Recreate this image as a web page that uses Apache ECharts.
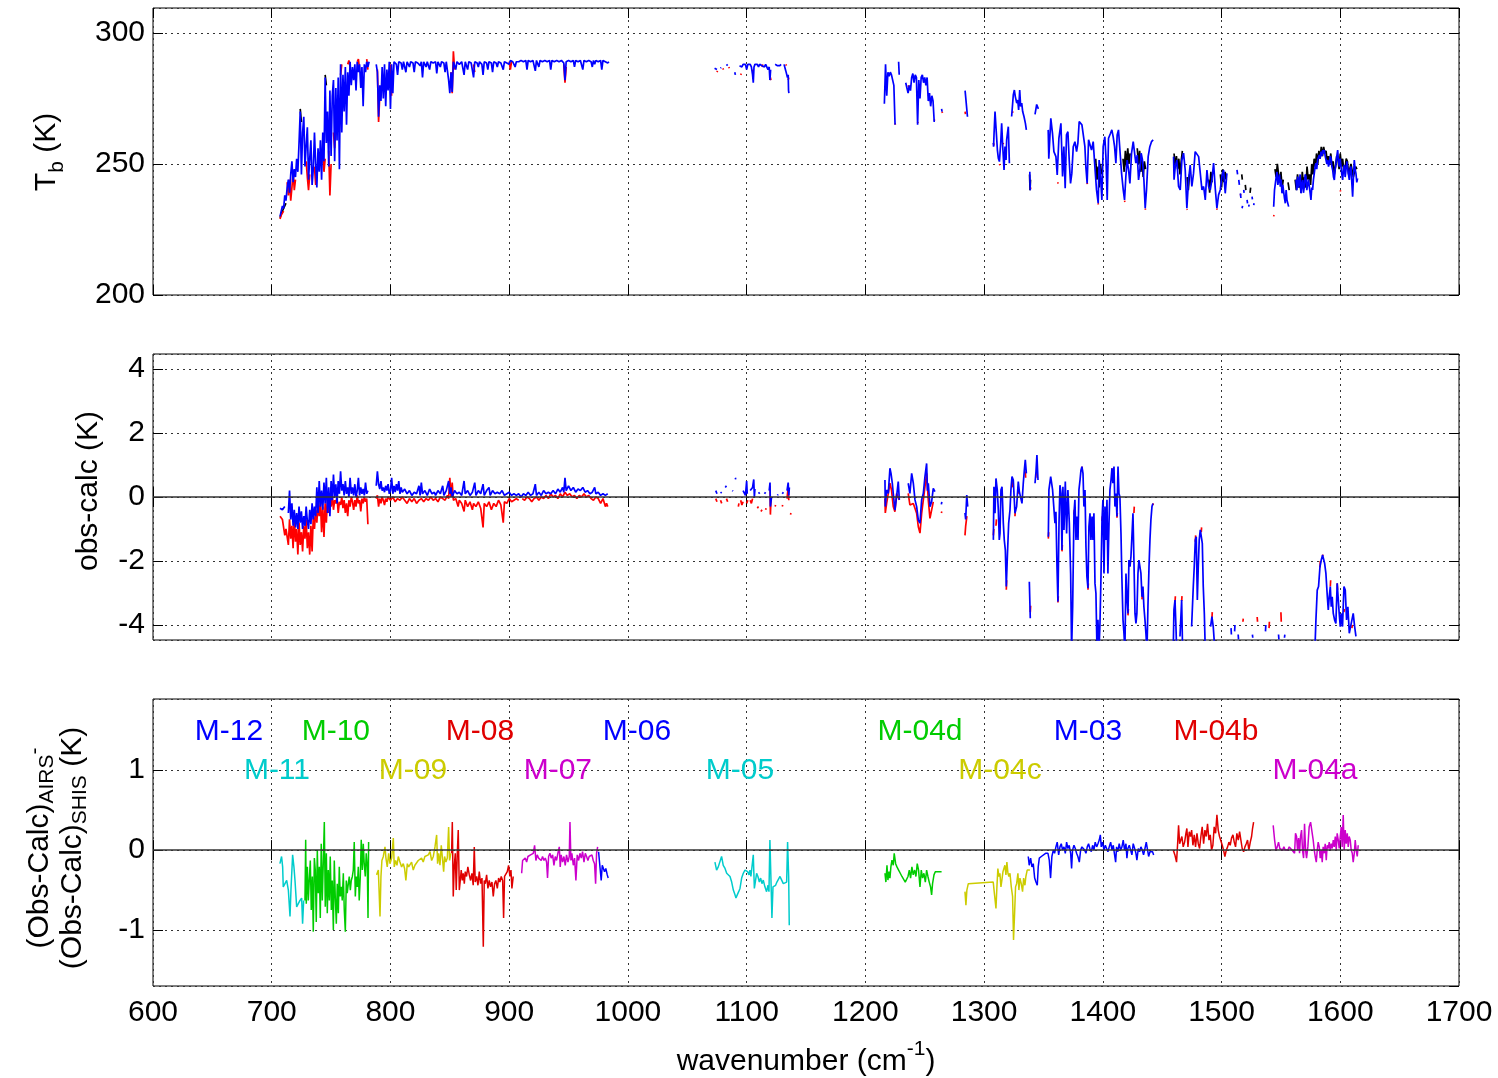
<!DOCTYPE html>
<html>
<head>
<meta charset="utf-8">
<script src="https://cdn.jsdelivr.net/npm/echarts@6/dist/echarts.min.js"></script>
<style>html,body{margin:0;padding:0;background:#fff;}#c{width:1498px;height:1078px;}</style>
</head>
<body>
<div id="c"></div>
<script>
// ---------------- DATA ----------------
const xTicks = [600, 1700, 100];

// Top panel: brightness temperature (K)
const tbBlack = [
[707,229.5],[708,231],[710,233],[712,235],null,
[724,271],[725,266],null,[745,284],[746,280],null,
[1338.3,246],[1338.7,240],[1339.1,244],null,
[1394,252],[1395,244],[1396,249],[1397,241],[1398,250],[1399,246],null,
[1417,252],[1418,247],[1419,255],[1420,249],[1421,256],[1422,250],[1423,254],null,
[1429,256],[1430,250],[1431,255],[1432,247],[1433,252],[1434,245],[1435,251],[1436,248],null,
[1460,254],[1461,249],[1462,253],[1463,248],[1464,252],[1465,246],[1466,251],[1467,255],null,
[1471,245],[1472,240],[1473,246],null,[1489,244],[1490,239],[1491,247],[1492,243],null,
[1499,246],[1500,241],[1501,248],[1502,243],[1503,247],[1504,244],null,
[1517,246],[1517.5,244],null,[1520,242],[1520.5,240],null,[1524,239],[1524.5,241],null,
[1545,248],[1546,245],[1547,250],[1548,246],[1549,243],[1550,247],[1551,241],[1552,244],null,[1556,243],[1557,240],null,
[1562,244],[1563,240],[1564,246],[1565,241],[1566,243],[1567,239],[1568,247],[1569,242],[1570,245],[1571,241],[1572,249],[1573,244],[1574,246],[1575,242],
[1576,250],[1577,246],[1578,252],[1579,249],[1580,254],[1581,250],[1582,255],[1583,252],[1584,256.5],[1585,253],[1586,256.5],[1587,254],[1588,255],
[1589,251],[1590,253],[1591,250],[1592,254],[1593,249],[1594,251],[1595,246],[1596,249],[1597,253],[1598,252],[1599,248],[1600,254],[1601,249],
[1602,252],[1603,247],[1604,248],[1605,252],[1606,251],[1607,246],[1608,246],[1609,250],[1610,250],[1611,245],[1612,247],[1613,249],[1614,248]
];
const tbRed = [
[707,229],[708,230.5],[710,232],null,[713,243],[714,238],[715,244],[716,236],[717,241],[718,247],[719,240],[720,244],null,
[729,251],[730,245],[731,240],[732,246],null,[736,249],[737,242],[738,249],null,[743,254],[744,247],[745,252],null,
[748,255],[749,238],[750,250],null,[752,262],[753,256],[754,264],null,[758,284],[759,288],null,[764,288],[765,289.5],[766,287],null,
[772,289],[773,290],[774,286],null,[780,290],[781,286],null,[789,286],[790,266],[791,276],null,[800,288],[801,276],null,
[851,285],[852,277],[853,293],[854,286],null,[870,288],[871,285],null,[900,289],[901,286],[902,289],null,[946,288],[947,281],[948,287],null,
[1075,285],[1075.5,285.5],null,[1080,286.5],[1080.5,286],null,[1085,287],[1085.4,286.5],null,[1095,284],[1095.5,284.5],null,
[1105,286],[1105.5,285],null,[1113,287],[1113.5,288],null,[1120,283],[1120.5,282],null,[1133,288],[1133.5,287.5],null,[1135,282],[1135.5,283],null,
[1217,282],[1218,283],null,[1225,265.5],[1225.3,265],null,[1236,280],[1237,279],null,[1244,266],[1244.3,265.5],null,
[1253,276],[1254,277],null,[1258,267],[1258.3,266.5],null,[1264.5,270],[1265,269.5],null,[1284,270],[1284.3,269],null,
[1308,258],[1308.3,257],null,[1313,250],[1313.3,249.5],null,[1316,258],[1316.3,257.5],null,[1324,270],[1324.3,269.5],null,[1339,241],[1339.3,240.5],null,
[1362,243],[1362.3,242.5],null,[1386.8,242.8],[1387,242.3],null,[1396,235],[1396.3,234.5],null,[1418.3,236],[1418.6,235.5],null,
[1435.7,233],[1436,232.5],null,[1470.8,232.8],[1471.1,232.5],null,[1496,233],[1496.3,232.5],null,[1515.9,238],[1516.2,238.5],null,
[1543.9,230],[1544.2,230.5],null,[1582,253],[1582.3,252],null,[1600,240],[1600.3,239.5]
];
const tbBlue = [
[707,230],[708,232],[709,234],[710,233],[711,238],[712,236],[713,241],[714,244],[715,239],[716,246],[717,251],[718,243],[719,248],[720,245],
[721,252],[722,247],[723,258],[724,270],[725,246],[726,262],[727,268],[728,249],[729,257],[730,264],[731,244],[732,252],[733,259],[734,242],
[735,248],[736,262],[737,250],[738,241],[739,256],[740,247],[741,259],[742,244],[743,262],[744,251],[745,283],[746,258],[747,270],[748,249],
[749,278],[750,253],[751,276],[752,282],[753,251],[754,279],[755,259],[756,283],[757,248],[758,288],[759,262],[760,284],[761,270],[762,287],
[763,265],[764,285],[765,276],[766,289],[767,280],[768,287],[769,282],[770,288],[771,278],[772,289],[773,285],[774,288],[775,279],[776,287],
[777,272],[778,288],[779,285],[780,289],[781,287],[782,289],null,
[788,288],[789,285],[790,268],[791,280],[792,274],[793,287],[794,275],[795,288],[796,272],[797,286],[798,278],[799,289],[800,271],[801,288],
[802,277],[803,289],[805,288],[806,284],[807,289],[809,288.5],[810,286],[811,289],[813,285],[814,289],[816,287],[817,289],[819,288.5],[820,285],
[821,289],[823,288.5],[825,287.5],[826,289],[827,283],[828,289],[830,287],[831,289],[833,286],[834,289],[836,288.5],[838,289],[839,284.5],[840,289],
[842,287],[843,289],[845,288.5],[846,285],[847,289],[849,282],[850,277],[851,285],[852,277.5],[853,289],[855,286],[856,289],[858,288],[860,289],
[862,284],[863,289],[865,286],[866,289],[868,288.5],[870,283],[871,289],[873,288.5],[874,287],[875,289],[877,288],[878,284],[879,289],[881,288.5],
[882,286],[883,289],[885,288.5],[886,285],[887,289],[889,288.5],[890,287],[891,289],[893,288.5],[895,286],[896,289],[898,288.5],[900,288],[901,289.5],
[903,289],[905,287],[906,289],[908,289],[910,289.5],[912,289],[914,289.5],[915,286],[916,289.5],[918,289],[920,289.5],[922,285.5],[923,289.5],
[925,287],[926,289.5],[928,289],[930,289.5],[932,289],[934,289.5],[935,286],[936,289.5],[938,289],[940,289.5],[942,289],[944,289.5],[946,288.5],
[947,282],[948,289],[950,289.5],[952,289],[954,289.5],[955,287],[956,289.5],[958,289],[960,289.5],[962,286],[963,289.5],[965,289],[967,289.5],
[969,289],[970,287],[971,289.5],[972,288],[973,289.5],[975,289],[977,289.5],[978,286],[979,289.5],[981,289],[983,288.5],[984,289],null,
[1073,286.5],[1074,287],[1075,286],null,[1078,286.5],[1078.5,286.8],null,[1083,288],[1084,287.5],null,[1090,285],[1090.5,284],null,
[1094,287.5],[1095,288],[1096,287],[1097,288],[1098,287.5],[1099,288],[1100,286],[1101,288],[1102,287.5],[1103,288],[1104,287],[1105,284],
[1105.6,281],[1106.2,287],[1107,288],[1108,287.5],[1109,288],[1110,287],[1111,288],[1112,288.5],[1113,287.5],[1114,288],[1115,287],[1116,288],
[1117,287.5],[1118,286],[1119,287],[1119.6,282],[1120.2,286],null,[1124,288],[1125,288.5],[1126,287.5],[1127,288],[1128,287.5],[1129,288],null,
[1131.5,288],[1132,287.5],[1133,285.5],[1134,286],[1134.4,283],[1135,284],[1135.3,278],[1135.6,277],null,
[1216,273],[1217,288],[1218,276],[1219,285],[1220,283.5],[1221,285],[1222,284],[1223,284.5],[1224,280],[1225,265],null,[1228,289],[1228.5,284],null,
[1234,281],[1235,279],[1236,277],[1237,280],[1238,278],[1239,283],[1240,284.5],[1241,281],[1242,284],[1243,283],[1244,265],[1245,282],[1246,275],
[1247,283],[1248,284],[1249,281],[1250,283],[1251,280],[1252,283],[1253,274],[1254,277],[1255,272],[1256,276],[1257,274],[1258,266],null,
[1264.2,271],[1264.6,270],null,[1284,278],[1285,273],[1286,268],null,
[1307.8,258],[1308,256.6],[1308.4,261.7],[1309.2,270],[1310,270.6],[1310.6,269.3],[1311.2,255.3],[1312,252.2],[1312.9,250.9],[1314,257.9],
[1314.8,265.5],[1315.7,256.6],[1316.8,247.7],[1317.6,256.6],[1318.5,251.5],[1319,259.2],[1320.4,264.2],[1321.3,250.3],null,
[1323.2,268.1],[1324.6,276.3],[1325.5,278.2],[1326.3,275.7],[1327.5,273.2],[1328.3,274.4],[1329.1,270.6],[1330,278.2],[1330.8,271.9],
[1331.7,273.2],[1332.5,270],[1333.6,268.1],[1334.8,265.5],[1335.6,263],null,[1338.5,247],[1338.7,243],[1338.9,240],null,
[1342.9,268.9],[1344.3,272.7],[1345.7,271],null,
[1354,263],[1354.5,252],[1356.2,267.4],[1357.6,261.7],[1358.8,254.7],[1360.5,252.8],[1361.6,245.8],[1363,259.8],[1364.7,265.5],[1366.1,245.2],
[1367.2,256.6],[1368.3,240.7],[1369.4,261.1],[1370.6,262.3],[1371.7,251.5],[1372.8,242.6],[1373.9,246.4],[1375.1,256.6],[1376.5,258.5],
[1377.9,254.7],[1379,257.9],[1380.1,266.2],[1381.2,266.8],[1382.4,264.9],[1383.5,264.2],[1384.9,256.6],[1385.7,249],[1386.8,242.6],[1388,259.2],
[1389.1,258.5],[1390.5,255.3],[1391.9,258.5],[1393.3,249],[1394.7,240.1],[1396.1,235],[1396.9,251.5],[1398.1,245.2],[1399.2,236.3],[1400.3,256.6],
[1401.7,260.4],[1402.6,252.8],[1403.7,236.3],[1404.8,259.8],[1406.5,261.7],[1407.6,263],[1408.7,260.4],[1409.9,256.6],[1411,250.3],[1412.1,261.1],
[1413.2,263],[1414.4,255.3],[1415.8,246.4],[1417.2,240.1],[1418.3,236.3],[1419.4,245.2],[1420.5,251.5],[1421.7,247.7],[1422.8,242.6],[1424.2,254.1],
[1425.6,258.5],[1426.7,258.5],[1427.8,250.3],[1429,253.4],[1430.1,243.9],[1431.2,247.7],[1432.3,254.1],[1433.4,251.5],[1434.6,243.9],[1435.7,233.1],
[1436.8,240.1],[1438.2,252.8],[1439.6,256.6],[1441,258.5],[1442.4,259.2],null,
[1459.6,252.8],[1460,244],[1461,249],[1462.4,251.5],[1463.8,241.4],[1465.2,240.1],[1466.6,251.5],[1468,254.1],[1469.4,247.7],[1470.8,233.1],
[1472.2,243.9],[1473.6,249.6],[1475,241.4],[1476.4,246.4],[1477.8,254.7],[1479.2,255.3],[1480.7,252.8],[1482.1,246.4],[1483.5,240.1],[1484.9,241.4],
[1486.3,236.3],[1487.7,247.7],[1489.1,241.4],[1490.5,240.1],[1491.9,243.9],[1493.3,250.3],[1494.7,240.7],[1496.1,233.1],[1497.5,238.2],[1498.9,240.1],
[1500.3,245.2],[1501.7,247.7],[1503.1,238.8],[1504.5,246.4],null,
[1513,247.7],[1513.5,246],null,[1514.5,243.9],[1515,242],null,[1515.9,238.8],[1516.3,237],null,[1517.3,233.1],[1517.7,234],null,[1518.7,240.1],[1519,239],null,
[1521.5,236.3],[1521.9,235],null,[1522.9,233.7],[1523.2,234.5],null,[1525.7,237.5],[1526,236.5],null,[1527.1,234.3],[1527.4,235],null,
[1543.9,233.7],[1544.6,240],[1545.3,240.1],[1546,245],[1546.7,247],[1547.4,242],[1548.1,243.9],[1548.8,246],[1549.5,241.3],[1550.2,244],[1550.9,238.8],
[1551.6,242],[1552.3,241.3],[1553,237],[1553.7,235],[1554.4,240],[1555.1,236.3],[1556.5,233.7],null,
[1562.7,243.9],[1563.4,240],[1564.1,245.2],[1564.8,241],[1565.5,242.6],[1566.2,246],[1566.9,238.8],[1567.6,242],[1568.3,243.9],[1569,239],[1569.7,241.3],
[1570.4,246],[1571.1,245.2],[1571.8,240],[1572.5,240.1],[1573.2,244],[1573.9,243.9],[1574.6,239],[1575.3,236.3],[1576,241],[1576.7,240.1],[1577.4,244],
[1578.1,246.4],[1578.8,249],[1579.5,250.3],[1580.2,248],[1580.9,251.5],[1581.6,252],[1582.3,253.4],[1583,252],[1583.8,254.7],[1584.5,253],[1585.2,255.3],
[1585.9,254],[1586.6,255.3],[1587.3,253],[1588,252.8],[1588.7,250],[1589.4,251.5],[1590.1,249],[1590.8,250.3],[1591.5,253],[1592.2,252.2],[1592.9,249],
[1593.6,247.7],[1594.3,245],[1595,243.9],[1595.7,248],[1596.4,250.3],[1597.1,253],[1597.8,255.3],[1598.5,251],[1599.2,249],[1599.9,252],[1600.6,251.5],
[1601.3,246],[1602,243.9],[1602.7,248],[1603.4,249.6],[1604.1,245],[1604.8,247.7],[1605.5,251],[1606.2,250.3],[1606.9,246],[1607.6,243.9],[1608.3,248],
[1609,249],[1609.7,243],[1610.4,237.5],[1611.1,245],[1611.8,251.5],[1612.5,248],[1613.2,246.4],[1613.9,243],[1614.6,244.5]
];

// Middle panel: obs-calc (K)
const ocRed = [
[707,-0.6],[709,-0.7],[711,-1.2],[712,-1.0],[714,-1.5],[715,-0.7],[716,-1.3],[717,-0.9],[718,-1.6],[719,-0.6],[720,-1.4],[721,-1.0],[722,-1.8],
[723,-0.8],[724,-1.5],[725,-1.1],[726,-1.7],[727,-0.9],[728,-1.3],[729,-0.7],[730,-1.6],[731,-1.1],[732,-1.8],[733,-0.9],[734,-1.7],[735,-0.6],
[736,-1.0],[737,-0.4],[738,-0.8],[739,-0.2],[740,-0.6],[741,-0.1],[742,-1.1],[743,-0.3],[744,-1.25],[745,-0.2],[746,-0.8],[747,0.0],[748,-0.5],
[749,-0.1],[750,-0.3],[751,0.05],[752,-0.4],[753,-0.1],[754,-0.2],[755,0.0],[756,-0.5],[757,-0.15],[758,-0.25],[759,0.0],[760,-0.35],[761,-0.1],
[762,-0.5],[763,-0.2],[764,-0.6],[765,-0.1],[766,-0.3],[767,0.0],[768,-0.15],[769,-0.4],[770,-0.1],[771,-0.3],[772,0.05],[773,-0.2],[774,-0.1],
[775,-0.45],[776,-0.05],[777,-0.2],[778,0.0],[779,-0.15],[780,-0.05],[781,-0.85],null,
[788,-0.05],[789,0.05],[790,-0.3],[791,-0.05],[792,-0.2],[793,0.0],[794,-0.1],[795,-0.25],[796,-0.05],[797,-0.15],[798,0.0],[800,-0.1],[802,0.0],
[804,-0.15],[806,-0.05],[808,-0.1],[810,0.0],[812,-0.1],[814,-0.2],[816,-0.05],[818,-0.15],[820,-0.05],[822,-0.2],[824,-0.1],[826,-0.05],[828,-0.15],
[830,-0.05],[832,-0.1],[834,0.0],[836,-0.1],[838,-0.05],[840,-0.15],[842,0.0],[844,-0.05],[846,-0.1],[848,0.05],[849,-0.05],[850,0.6],[851,0.0],
[852,0.45],[853,-0.1],[855,-0.05],[857,-0.3],[858,-0.1],[860,-0.2],[862,-0.45],[863,-0.1],[865,-0.3],[867,-0.15],[869,-0.4],[870,-0.2],[872,-0.3],
[874,-0.15],[876,-0.35],[878,-0.95],[879,-0.2],[881,-0.3],[883,-0.15],[885,-0.4],[887,-0.2],[889,-0.3],[891,-0.1],[893,-0.25],[895,-0.8],[896,-0.15],
[898,-0.2],[900,-0.05],[902,-0.15],[904,-0.1],[906,-0.05],[908,-0.1],null,
[911,-0.05],[913,-0.1],[915,0.0],[917,-0.05],[919,-0.15],[921,-0.05],[923,0.0],[925,-0.1],[927,0.0],[929,-0.05],[931,0.05],[933,-0.05],[935,0.1],
[937,0.0],[939,0.05],[941,-0.05],[943,0.1],[945,0.0],[947,0.15],[949,0.05],[951,0.1],[953,0.0],[955,0.05],[957,-0.05],[959,0.05],[961,0.0],[963,0.1],
[965,0.0],[967,0.05],[969,-0.05],[971,-0.1],[973,0.0],[975,-0.05],[977,-0.2],[979,-0.05],[981,-0.3],[982,-0.2],[983,-0.3],null,
[1074,-0.05],[1075,-0.15],null,[1078,-0.1],[1079,-0.2],null,[1083,-0.05],[1084,-0.15],null,[1093,-0.3],[1093.5,-0.2],null,[1095,-0.1],[1096,-0.25],
[1097,-0.15],null,[1100,-0.2],[1101,-0.1],null,[1103,-0.1],[1104,-0.2],[1105,-0.05],null,[1109,-0.35],[1110,-0.3],null,[1112,-0.45],[1113,-0.4],null,
[1116,-0.4],[1116.4,-0.35],null,[1119.7,0.35],[1120,-0.55],[1120.5,-0.1],null,[1124,-0.3],[1124.4,-0.25],null,[1130,-0.3],[1130.4,-0.25],null,
[1134,-0.05],[1135,0.3],[1135.5,-0.1],null,[1137,-0.55],[1137.3,-0.5],null,
[1216.5,-0.05],[1216.8,-0.5],[1217.9,-0.2],[1219.3,0.11],[1220.7,0.43],[1222,0.22],[1223.5,-0.3],[1224.9,-0.46],[1226.3,0.11],[1228.6,-0.09],null,
[1236.1,0.11],[1237.5,-0.25],[1240.4,-0.2],[1243.2,-0.51],[1244.6,-0.93],[1246,-1.13],[1247.4,-0.51],[1251.6,0.74],[1253,-0.09],[1254.4,-0.67],
[1255.8,-0.72],[1257.2,-0.15],null,[1264,-0.5],[1264.4,-0.45],null,
[1283.9,-1.2],[1284.5,-0.9],[1285.5,-0.6],null,[1307.8,-1.2],[1308.2,-1.0],null,[1310,-0.9],[1310.4,-0.7],null,[1318.7,-2.9],[1319,-2.6],null,
[1323.5,0.5],[1323.8,0.3],null,[1326,-0.6],[1326.3,-0.4],null,[1328.8,0.3],[1329.1,0.1],null,[1334.7,0.8],[1335,0.6],null,[1338.9,-3.6],[1339.2,-3.4],null,
[1344.5,0.75],[1344.8,0.6],null,[1354.1,-1.3],[1354.4,-1.1],null,[1362.2,-3.3],[1362.5,-3.1],null,[1365.6,-1.7],[1365.9,-1.5],null,
[1375.7,-0.55],[1376,-0.4],null,[1382.4,0.95],[1382.7,0.8],null,[1387.5,-2.9],[1387.8,-2.7],null,[1399.3,-0.75],[1399.6,-0.6],null,
[1407.7,0.9],[1408,0.75],null,[1411.9,-0.65],[1412.2,-0.5],null,[1421.2,-3.7],[1421.5,-3.5],null,[1426.2,-0.5],[1426.5,-0.3],null,
[1433,-3.2],[1433.3,-3.0],null,[1442.2,-0.25],[1442.5,-0.2],null,[1460.8,-3.3],[1461.1,-3.1],null,[1466.4,-3.25],[1466.7,-3.1],null,
[1477.9,-1.4],[1478.2,-1.2],null,[1482.9,-1.1],[1483.2,-0.95],null,[1491.9,-3.8],[1492.2,-3.6],null,[1518,-3.9],[1518.3,-3.8],null,
[1530,-3.75],[1530.3,-3.9],null,[1540,-4.1],[1540.3,-3.9],null,[1550,-3.6],[1550.3,-3.9],null,[1582.9,-2.2],[1583.2,-2.0],null,
[1585.1,-1.85],[1585.4,-1.8],null,[1591.6,-2.8],[1591.9,-2.6],null,[1597.4,-2.7],[1597.7,-2.9],null,[1603.1,-3.6],[1603.4,-3.5],null,
[1609.8,-4.1],[1610.1,-4.0]
];
const ocBlue = [
[707,-0.35],[709,-0.4],[711,-0.3],null,[714,-0.5],[715,0.2],[716,-0.7],[717,-0.2],[718,-0.9],[719,-0.4],[720,-0.95],[721,-0.5],[722,-1.0],
[723,-0.3],[724,-0.8],[725,-0.45],[726,-1.0],[727,-0.6],[728,-0.9],[729,-0.3],[730,-0.75],[731,-1.0],[732,-0.4],[733,-0.85],[734,-0.2],[735,-0.7],
[736,-0.3],[737,-0.6],[738,0.3],[739,-0.5],[740,0.5],[741,-0.3],[742,0.2],[743,-0.4],[744,0.45],[745,-0.2],[746,0.6],[747,-0.5],[748,0.3],
[749,-0.6],[750,0.5],[751,-0.1],[752,0.7],[753,0.0],[754,0.4],[755,-0.2],[756,0.5],[757,0.1],[758,0.8],[759,0.2],[760,0.4],[761,0.05],[762,0.5],
[763,0.1],[764,0.3],[765,0.0],[766,0.6],[767,0.1],[768,0.3],[769,0.05],[770,0.4],[771,0.0],[772,0.2],[773,0.6],[774,0.05],[775,0.3],[776,0.1],
[777,0.25],[778,0.05],[779,0.45],[780,0.1],[781,0.2],null,
[788,0.35],[789,0.8],[790,0.4],[791,0.25],[792,0.5],[793,0.2],[794,0.3],[795,0.15],[796,0.35],[797,0.2],[798,0.4],[799,0.1],[800,0.2],[801,0.6],
[802,0.1],[803,0.35],[804,0.15],[805,0.4],[806,0.2],[807,0.5],[808,0.1],[809,0.3],[810,0.15],[812,0.25],[814,0.1],[816,0.2],[818,0.05],[820,0.15],
[822,0.1],[824,0.35],[825,0.05],[826,0.45],[827,0.1],[829,0.2],[831,0.05],[833,0.25],[835,0.1],[837,0.15],[838,0.05],[840,0.2],[842,0.1],[844,0.35],
[845,0.05],[847,0.2],[849,0.5],[850,0.1],[851,0.3],[852,0.0],[854,0.2],[856,0.1],[858,0.15],[860,0.05],[862,0.5],[863,0.1],[865,0.2],[867,0.05],
[869,0.15],[871,0.45],[872,0.05],[874,0.2],[876,0.1],[878,0.4],[879,0.05],[881,0.2],[883,0.3],[884,0.05],[886,0.2],[888,0.1],[890,0.15],[892,0.1],
[894,0.2],[896,0.05],[898,0.1],[900,0.15],[902,0.05],[904,0.1],[906,0.05],[908,0.1],[910,0.0],[912,0.1],[914,0.05],[916,0.15],[918,0.05],[920,0.1],
[922,0.4],[923,0.05],[925,0.15],[927,0.05],[929,0.2],[931,0.1],[933,0.15],[935,0.1],[937,0.2],[939,0.1],[941,0.25],[943,0.15],[945,0.3],[946,0.15],
[947,0.6],[948,0.2],[950,0.35],[952,0.2],[954,0.3],[956,0.15],[958,0.25],[960,0.2],[962,0.3],[964,0.15],[966,0.2],[968,0.1],[970,0.15],[972,0.3],
[973,0.1],[975,0.15],[977,0.05],[979,0.1],[981,0.05],[983,0.1],null,
[1074,0.2],[1075,0.1],null,[1078,0.15],[1079,0.12],null,[1082,0.3],[1083,0.35],null,[1088,0.2],[1088.4,0.18],null,[1090.5,0.6],[1090.8,0.55],null,
[1097,0.2],[1098,0.22],[1099,0.05],[1100,0.5],[1100.5,0.1],null,[1103,0.2],[1104,0.15],[1105,0.3],[1106,0.55],[1106.5,0.0],[1107,0.25],null,
[1110,0.15],[1111,0.1],null,[1115,0.1],[1116,0.15],null,[1119,0.2],[1119.7,0.45],[1120,-0.3],[1121,0.0],null,[1126,0.05],[1126.4,0.08],null,
[1130,0.1],[1131,0.15],null,[1134,0.2],[1135,0.45],[1135.5,0.05],[1136,0.3],null,
[1216.5,0.53],[1216.8,-0.3],[1217.9,0.22],[1219.3,0.11],[1220.7,0.9],[1221.6,0.74],[1222.7,0.43],[1223.5,0.11],[1224.9,-0.41],[1226.3,0.01],
[1227.7,0.48],[1228.6,-0.09],null,[1236.1,0.43],[1237.5,0.11],[1239,0.74],[1240.4,0.43],[1241.8,-0.09],[1243.2,-0.3],[1244.6,-0.72],[1246,-0.82],
[1247.4,-0.09],[1248.8,0.11],[1250.2,0.64],[1251.6,1.05],[1252.3,0.2],[1253,0.43],[1254.4,-0.3],[1255.8,-0.15],[1257.2,0.27],[1258.6,0.17],null,
[1264,-0.23],[1264.4,-0.15],null,[1283.9,-0.5],[1284.5,-0.7],[1285.4,0.06],[1286.2,-0.3],null,
[1307.8,-1.34],[1308.3,0.32],[1309.2,-0.51],[1310,0.58],[1311.1,0.22],[1312,-0.41],[1312.8,-1.34],[1313.4,-1.14],[1314.2,0.22],[1315.1,0.32],
[1316.2,-0.82],[1317,-1.34],[1317.9,-1.66],[1318.7,-2.8],[1319.6,-1.86],[1320.7,-0.82],[1321.8,-0.41],[1322.6,0.22],[1323.5,0.64],[1324.6,0.53],
[1326,-0.51],[1327.4,-0.3],[1328.8,0.48],[1329.7,0.17],[1330.8,0.11],[1331.9,-0.2],[1333,0.43],[1333.9,0.84],[1334.7,1.16],[1335.6,0.74],null,
[1338.1,-2.65],[1338.9,-3.79],null,[1342.9,0.43],[1343.7,0.79],[1344.5,1.31],[1345.4,0.53],null,
[1354.1,-1.24],[1354.6,0.22],[1356.1,0.64],[1356.9,0.69],[1357.7,0.22],[1358.9,-0.41],[1359.7,-0.82],[1360.5,-0.46],[1361.4,-2.18],[1362.2,-3.27],
[1363.1,-0.82],[1363.9,0.37],[1364.8,0.11],[1365.6,-1.66],[1366.4,0.32],[1367.3,-1.03],[1368.4,0.48],[1369.5,-1.14],[1370.6,0.22],[1371.8,-0.82],
[1372.9,-2.39],[1373.7,-4.8],[1374.6,-3.43],[1375.7,-0.51],[1376.5,-0.09],[1377.4,-1.34],[1378.2,-0.61],[1379.1,-1.34],[1379.9,0.22],[1380.8,0.53],
[1381.6,0.84],[1382.4,0.95],[1383.3,0.74],[1384.1,-0.3],[1385,0.22],[1385.8,-1.55],[1386.6,-2.49],[1387.5,-2.85],[1388.3,-0.93],[1389.2,-0.51],
[1390,-1.34],[1390.9,-0.61],[1391.7,-1.34],[1392.5,-0.51],[1393.4,-2.7],[1394.2,-3.01],[1395.1,-4.8],[1395.9,-3.84],[1396.8,-4.8],[1397.6,-3.95],
[1398.4,-2.59],[1399.3,-0.72],[1400.1,-0.09],[1401,-2.39],[1401.8,-0.3],[1402.6,-1.34],[1403.5,-0.09],[1404.3,-2.39],[1405.2,-0.82],[1406,0.22],
[1406.9,0.53],[1407.7,0.9],[1408.5,0.43],[1409.4,0.95],[1410.2,-0.3],[1411.1,0.11],[1411.9,-0.61],[1412.8,0.95],[1413.6,0.11],[1414.4,0.01],
[1415.3,-1.14],[1416.1,-2.59],[1417,-3.84],[1417.8,-4.26],[1418.6,-4.8],[1419.5,-2.39],[1420.3,-3.12],[1421.2,-3.64],[1422,-1.97],[1422.9,-2.18],
[1423.7,-1.86],[1424.5,-1.24],[1425.4,-0.51],[1426.2,-0.46],[1427.1,-3.64],[1427.9,-3.95],[1428.7,-3.64],[1429.6,-2.39],[1430.4,-1.97],[1431.3,-1.97],
[1432.1,-2.39],[1433,-3.12],[1433.8,-2.8],[1434.6,-3.43],[1435.5,-3.84],[1436.3,-4.26],[1437.2,-4.8],[1438,-3.43],[1438.9,-2.18],[1439.7,-1.34],
[1440.5,-0.72],[1441.4,-0.3],[1442.2,-0.2],null,
[1459.3,-4.8],[1459.9,-3.53],[1460.8,-3.22],[1461.6,-4.05],[1462.2,-4.8],null,[1465,-4.36],[1466.4,-3.22],[1467.2,-4.8],null,
[1474.8,-4.05],[1476.2,-2.8],[1477,-2.18],[1477.9,-1.34],[1478.7,-1.24],[1479.6,-3.22],[1480.4,-2.18],[1481.2,-1.34],[1482.1,-1.03],[1482.9,-0.98],
[1483.8,-1.45],[1484.6,-2.8],[1485.5,-3.64],[1486.3,-4.8],null,[1490.8,-4.05],[1491.9,-3.74],[1493,-4.05],[1494.4,-4.8],null,
[1508,-4.1],[1508.3,-4.3],null,[1511,-4.2],[1511.3,-4.0],null,[1514,-4.3],[1514.3,-4.45],null,[1526,-4.3],[1526.3,-4.4],null,[1537,-4.2],[1537.3,-4.0],null,
[1548,-4.3],[1548.3,-4.45],null,[1553,-4.4],[1553.3,-4.3],null,
[1578.6,-4.8],[1579.5,-3.84],[1580.6,-2.91],[1581.7,-2.8],[1582.9,-2.18],[1584,-1.97],[1585.1,-1.81],[1586,-1.86],[1586.8,-2.07],[1587.9,-2.39],
[1589.1,-3.12],[1589.9,-3.53],[1590.7,-3.12],[1591.6,-2.8],[1592.4,-3.43],[1593.2,-3.12],[1594.1,-3.64],[1595.2,-3.84],[1596.3,-3.95],[1597.4,-2.7],
[1598.3,-2.7],[1599.1,-3.64],[1600,-4.05],[1600.8,-3.64],[1601.9,-4.05],[1603.1,-2.8],[1604.2,-2.91],[1605.3,-3.84],[1606.4,-3.43],[1607.6,-4.26],
[1608.7,-4.05],[1609.8,-4.05],[1610.9,-3.64],[1612.1,-4.05],[1613.2,-4.36]
];

// Bottom panel: (Obs-Calc)AIRS - (Obs-Calc)SHIS per SHIS module
const m11 = [[706.9,-0.17],[708.3,-0.08],[709.2,-0.21],[709.7,-0.46],[711.2,-0.44],[712.6,-0.38],[714,-0.5],[715.4,-0.83],[716.2,-0.5],[717.6,-0.06],[718.7,-0.21],[719.6,-0.38],[721,-0.71],[722.4,-0.67],[723.8,-0.63],[725.2,-0.6],[726,-0.92],[726.9,-0.63]];
const m10 = [[728,-0.63],[728.6,0.13],[729.1,-0.67],[730,-0.21],[730.8,-0.63],[731.6,-0.38],[732.5,-0.13],[733.3,-0.75],[734.2,-0.33],[735,-1.02],[735.9,-0.1],[736.7,-0.25],[737.5,-0.9],[738.4,0.0],[739.2,-0.54],[740.1,-0.21],[740.9,-0.85],[741.7,0.08],[742.6,-0.63],[743.4,-0.17],[744.3,0.35],[745.1,-0.71],[746,-0.04],[746.8,-0.79],[747.6,-0.25],[748.5,-0.63],[749.3,-0.08],[750.2,-0.75],[751,-0.38],[751.9,-1.0],[752.7,-0.13],[753.5,-0.58],[754.4,-0.92],[755.2,-0.42],[756.1,-0.79],[756.9,-0.21],[757.7,-0.58],[758.6,-0.46],[759.4,-0.63],[760.3,-0.29],[761.1,-0.75],[762,-1.02],[762.8,-0.38],[763.6,-0.54],[764.5,-0.42],[765.3,-0.33],[766.2,-0.5],[767,-0.38],[767.9,-0.33],[768.7,-0.25],[769.5,0.1],[770.4,-0.58],[771.2,-0.33],[772.1,-0.46],[772.9,-0.21],[773.7,-0.63],[774.6,-0.33],[775.4,0.13],[776.3,-0.25],[777.1,0.08],[777.9,-0.17],[778.8,-0.33],[779.6,-0.04],[780.5,-0.21],[781.1,-0.85],[781.6,0.1]];
const m09 = [[788.3,-0.31],[789.8,-0.25],[791.2,-0.83],[792,-0.33],[792.8,-0.13],[794,-0.08],[795.4,0.04],[796.2,-0.1],[797.3,-0.21],[798.5,-0.04],[799.6,-0.17],[801,-0.1],[802.4,0.15],[803.2,-0.21],[804.3,-0.13],[805.5,-0.19],[806.6,-0.08],[808,-0.15],[809.4,-0.21],[810.8,-0.17],[811.9,-0.23],[813,-0.38],[814.2,-0.17],[815.3,-0.21],[816.4,-0.19],[817.8,-0.15],[819.2,-0.25],[820.6,-0.19],[822,-0.21],[823.4,-0.13],[824.8,-0.15],[826.2,-0.1],[827.6,-0.15],[829,-0.08],[830.5,-0.1],[831.9,-0.06],[833.3,-0.02],[834.7,-0.13],[836.1,-0.08],[837.5,0.04],[838.9,0.19],[839.7,-0.17],[840.6,-0.04],[841.7,-0.19],[842.8,0.06],[843.9,0.08],[844.8,-0.27],[845.6,-0.08],[846.7,-0.15],[847.9,-0.1],[849,0.29],[849.8,-0.13],[850.9,-0.04]];
const m08 = [[851.5,-0.04],[852.1,0.35],[852.9,-0.58],[853.7,-0.21],[854.6,-0.04],[855.4,-0.5],[856.3,-0.04],[857.1,0.25],[858,-0.5],[858.8,-0.38],[859.6,-0.25],[860.5,-0.38],[861.3,-0.29],[862.2,-0.42],[863,-0.27],[864.1,-0.33],[865.2,-0.21],[866.4,-0.31],[867.5,-0.38],[868.6,-0.29],[869.7,-0.44],[870.6,0.04],[871.4,-0.4],[872.6,-0.33],[873.7,-0.44],[874.8,-0.27],[875.9,-0.42],[877.1,-0.35],[878.2,-1.21],[879,-0.38],[879.9,-0.42],[881,-0.31],[882.1,-0.48],[883.2,-0.38],[884.3,-0.46],[885.5,-0.4],[886.6,-0.58],[887.7,-0.42],[888.8,-0.38],[890,-0.48],[891.1,-0.35],[892.2,-0.4],[893.3,-0.33],[894.5,-0.38],[895.3,-0.85],[896.1,-0.33],[897.3,-0.31],[898.4,-0.27],[899.5,-0.19],[900.6,-0.33],[901.5,-0.25],[902.3,-0.48],[903.4,-0.33]];
const m07 = [[910.5,-0.29],[911.3,-0.13],[912.4,-0.15],[913.5,-0.1],[914.7,-0.15],[915.8,-0.08],[916.9,-0.1],[918,-0.06],[919.2,-0.08],[920.3,-0.04],[921.4,0.06],[922.5,-0.13],[923.6,-0.06],[924.8,-0.1],[925.9,-0.08],[927,-0.13],[928.1,-0.08],[929.3,-0.13],[930.4,-0.1],[931.5,-0.15],[932.3,-0.35],[933.2,-0.08],[934.3,-0.04],[935.4,-0.1],[936.6,-0.06],[937.7,-0.19],[938.8,-0.08],[939.9,-0.13],[941,-0.04],[942.2,0.04],[943,-0.21],[943.8,-0.06],[945,-0.15],[946.1,-0.08],[947.2,-0.19],[948.3,-0.06],[949.5,-0.15],[950.6,-0.08],[951.2,0.35],[952,-0.13],[952.8,-0.04],[954,-0.19],[955.1,-0.1],[956.2,-0.38],[957.3,-0.06],[958.5,-0.13],[959.6,-0.04],[960.7,-0.1],[961.8,-0.02],[963,-0.15],[964.1,-0.04],[965.2,-0.08],[966.3,-0.13],[967.4,-0.08],[968.6,-0.1],[969.7,-0.06],[970.8,-0.13],[971.9,-0.17],[972.8,-0.42],[973.6,-0.04],[974.5,0.04]];
const m06 = [[975.3,-0.02],[976.4,-0.04],[977.5,-0.38],[978.4,-0.19],[979.2,-0.17],[980.3,-0.27],[981.4,-0.23],[982.6,-0.31],[983.4,-0.35]];
const m05 = [[1073.3,-0.15],[1074.7,-0.25],[1076.1,-0.21],[1077.5,-0.23],[1078.9,-0.08],[1080.3,-0.19],[1081.8,-0.23],[1083.2,-0.29],[1084.6,-0.27],[1086,-0.33],[1087.4,-0.4],[1088.8,-0.5],[1090.2,-0.56],[1091,-0.6],[1092.1,-0.56],[1093.3,-0.52],[1094.4,-0.48],[1095.8,-0.35],[1097.2,-0.29],[1098.6,-0.25],[1100,-0.23],[1100.8,-0.27],[1102,-0.31],[1102.8,-0.25],[1103.6,-0.33],[1104.8,-0.35],[1105.6,-0.06],[1106.5,-0.48],[1107.3,-0.4],[1108.4,-0.29],[1109.5,-0.33],[1110.7,-0.4],[1111.8,-0.35],[1112.9,-0.42],[1114,-0.375],[1115.4,-0.46],[1116.8,-0.52],[1118,-0.44],[1118.8,-0.52],[1119.6,0.125],[1120.5,-0.375],[1121.3,-0.85],[1122.2,-0.46],[1123.3,-0.48],[1124.4,-0.44],[1125.5,-0.4],[1126.7,-0.375],[1128.1,-0.33],[1129.5,-0.375],[1130.9,-0.42],[1132.3,-0.44],[1133.7,-0.4],[1134.5,0.1],[1135.4,-0.33],[1135.9,-0.94]];
const m04d = [[1216.5,-0.29],[1217.3,-0.4],[1218.2,-0.19],[1219,-0.375],[1219.9,-0.27],[1220.7,-0.35],[1221.5,-0.21],[1222.4,-0.125],[1223.5,-0.19],[1224.3,-0.04],[1225.5,-0.17],[1226.6,-0.21],[1228,-0.25],[1229.4,-0.29],[1230.8,-0.33],[1232.2,-0.35],[1233.6,-0.4],[1234.7,-0.375],[1235.9,-0.33],[1237,-0.25],[1238.1,-0.35],[1239.2,-0.21],[1240.3,-0.31],[1241.5,-0.25],[1242.6,-0.33],[1243.7,-0.17],[1244.8,-0.25],[1246,-0.46],[1247.1,-0.25],[1248.2,-0.35],[1249.3,-0.29],[1250.5,-0.4],[1251.6,-0.25],[1252.7,-0.33],[1253.8,-0.4],[1254.9,-0.46],[1255.8,-0.56],[1256.6,-0.42],[1257.8,-0.31],[1258.9,-0.27],[1264.2,-0.27]];
const m04c = [[1283.9,-0.52],[1284.7,-0.69],[1285.5,-0.5],[1286.7,-0.42],[1307.7,-0.4],[1308.8,-0.56],[1310,-0.73],[1310.8,-0.46],[1311.6,-0.23],[1312.5,-0.33],[1313.3,-0.29],[1314.2,-0.46],[1315,-0.375],[1315.9,-0.27],[1316.7,-0.25],[1317.5,-0.19],[1318.4,-0.31],[1319.2,-0.15],[1320.1,-0.29],[1320.9,-0.33],[1321.8,-0.29],[1322.9,-0.46],[1324,-0.58],[1324.8,-1.125],[1325.7,-0.79],[1326.5,-0.46],[1327.4,-0.42],[1328.5,-0.29],[1329.3,-0.5],[1330.2,-0.35],[1331.3,-0.42],[1332.4,-0.52],[1333.3,-0.35],[1334.4,-0.44],[1335.2,-0.33],[1336.3,-0.25],[1338.6,-0.25]];
const m03 = [[1337.2,-0.08],[1338,-0.19],[1339.2,-0.1],[1340.3,-0.21],[1341.4,-0.17],[1342.6,-0.35],[1343.7,-0.4],[1344.8,-0.44],[1345.6,-0.21],[1346.5,-0.1],[1348.2,-0.08],[1349.8,-0.06],[1351.8,-0.04],[1353.8,-0.04],[1354.9,-0.125],[1356,-0.35],[1357.1,-0.08],[1358.3,0.0],[1359.4,-0.04],[1360.5,0.04],[1361.6,0.1],[1362.8,-0.06],[1363.9,0.04],[1365,0.08],[1366.1,0.0],[1367.3,0.04],[1368.4,-0.04],[1369.5,0.1],[1370.6,0.02],[1371.7,0.06],[1372.9,-0.04],[1373.7,-0.23],[1374.5,0.0],[1375.7,0.06],[1376.8,0.02],[1377.9,-0.04],[1379,-0.08],[1380.2,-0.15],[1381.3,0.0],[1382.4,0.04],[1383.5,0.06],[1384.7,0.0],[1385.8,-0.04],[1386.9,0.04],[1388,0.08],[1389.1,0.02],[1390.3,-0.02],[1391.4,0.06],[1392.5,0.0],[1393.6,0.1],[1394.8,0.04],[1395.9,0.08],[1397,0.125],[1397.9,0.19],[1398.7,0.04],[1399.8,0.1],[1401,0.0],[1402.1,0.06],[1403.2,0.02],[1404.3,-0.02],[1405.4,0.04],[1406.6,0.1],[1407.7,0.0],[1408.8,0.06],[1409.9,-0.06],[1410.8,-0.15],[1411.6,0.04],[1412.7,-0.02],[1413.8,0.08],[1415,0.0],[1416.1,0.04],[1417.2,0.125],[1418.3,0.0],[1419.5,0.08],[1420.3,-0.1],[1421.1,0.02],[1422.3,0.06],[1423.4,0.0],[1424.5,-0.06],[1425.6,0.08],[1426.8,0.02],[1427.9,-0.04],[1428.7,-0.125],[1429.9,0.02],[1431,-0.02],[1432.1,0.04],[1433.2,0.0],[1434.3,-0.06],[1435.5,0.02],[1436.6,0.1],[1437.7,0.0],[1438.6,-0.08],[1439.7,-0.02],[1440.8,-0.04],[1441.9,-0.02],[1442.8,-0.06]];
const m04b = [[1459.3,0.0],[1460.7,-0.06],[1462.1,-0.15],[1463,0.08],[1463.8,0.31],[1464.7,0.08],[1465.5,0.06],[1466.6,0.17],[1467.7,0.04],[1468.9,0.1],[1470,0.21],[1470.8,0.27],[1471.7,0.04],[1472.8,0.23],[1473.9,0.17],[1474.8,0.25],[1475.9,0.06],[1477,0.19],[1478.1,0.04],[1479.3,0.21],[1480.4,0.08],[1481.5,0.02],[1482.6,0.17],[1483.7,0.29],[1484.9,0.08],[1486,0.25],[1487.1,0.17],[1488.2,0.33],[1489.4,0.125],[1490.5,0.19],[1491.6,0.0],[1492.7,0.06],[1493.8,0.29],[1495,0.21],[1496.1,0.44],[1497.2,0.25],[1498.3,0.17],[1499.5,0.15],[1500.6,0.06],[1501.7,0.0],[1502.8,-0.08],[1504,0.0],[1505.1,0.04],[1506.2,0.1],[1507.3,0.06],[1508.4,0.15],[1509.6,0.19],[1510.7,0.1],[1511.8,0.04],[1512.9,0.21],[1514.1,0.125],[1515.2,0.23],[1516.3,0.125],[1517.4,0.02],[1518.6,-0.02],[1519.7,0.04],[1520.8,0.08],[1521.9,0.125],[1523,0.0],[1524.2,0.1],[1525.3,0.17],[1526.1,0.27],[1527,0.35]];
const m04a = [[1543.5,0.31],[1544.7,0.125],[1545.8,0.0],[1546.9,0.04],[1548,0.1],[1549.1,0.02],[1550.3,0.04],[1551.4,0.0],[1552.5,0.04],[1553.6,0.0],[1554.8,0.02],[1555.9,0.0],[1557,0.04],[1558.1,0.02],[1559.3,0.0],[1560.4,-0.02],[1561.5,-0.04],[1562.3,0.21],[1563.2,0.17],[1564,0.0],[1564.9,0.15],[1565.7,-0.04],[1566.5,0.17],[1567.4,0.25],[1568.2,0.0],[1569.1,-0.1],[1569.9,0.33],[1570.8,0.0],[1571.6,-0.1],[1572.7,0.04],[1573.8,0.29],[1575,0.35],[1576.1,0.33],[1577.2,0.125],[1578.1,0.0],[1578.9,-0.08],[1579.8,-0.15],[1580.6,0.0],[1581.4,0.1],[1582.3,0.04],[1583.1,-0.1],[1584,0.0],[1584.8,-0.15],[1585.6,0.04],[1586.5,-0.04],[1587.3,0.08],[1588.2,-0.125],[1589,0.06],[1589.9,0.02],[1590.7,0.1],[1591.5,0.0],[1592.4,0.08],[1593.2,0.02],[1594.1,0.125],[1594.9,0.04],[1595.8,0.17],[1596.6,0.0],[1597.4,0.21],[1598.3,0.125],[1599.1,0.02],[1600,0.17],[1600.8,0.29],[1601.6,0.04],[1602.5,0.44],[1603.3,0.0],[1604.2,0.25],[1605,0.08],[1605.9,0.21],[1606.7,0.04],[1607.5,0.17],[1608.4,0.125],[1609.2,0.0],[1610.1,-0.04],[1610.9,-0.15],[1611.8,-0.04],[1612.6,0.125],[1613.4,0.0],[1614.3,-0.08],[1615.1,0.06]];

// Module labels (text, wavenumber position, value position)
const modNames = ['M-12','M-10','M-08','M-06','M-04d','M-03','M-04b','M-11','M-09','M-07','M-05','M-04c','M-04a'];
const modLabelX = [664, 754, 875.4, 1007.6, 1246, 1387.5, 1495.3, 704.4, 819, 941, 1094.4, 1313.4, 1578.7];
const modLabelY = [1.475, 1.475, 1.475, 1.475, 1.475, 1.475, 1.475, 0.99, 0.99, 0.99, 0.99, 0.99, 0.99];

// ---------------- STYLE ----------------
const C = {blue:'#0000ff', red:'#ff0000', black:'#000000', cyan:'#00cccc', green:'#00cc00', yellow:'#cccc00', magenta:'#cc00cc', dred:'#e00000'};
const modColor = {'M-12':C.blue,'M-10':C.green,'M-08':C.dred,'M-06':C.blue,'M-04d':C.green,'M-03':C.blue,'M-04b':C.dred,
  'M-11':C.cyan,'M-09':C.yellow,'M-07':C.magenta,'M-05':C.cyan,'M-04c':C.yellow,'M-04a':C.magenta};
const FONT = 'Liberation Sans, Arial, Helvetica, sans-serif';

function withGaps(arr){
  const out = []; let last = 0;
  for (const p of arr){ if (p === null) out.push([last, '-']); else { out.push(p); last = p[0]; } }
  return out;
}

const grids = [
  {left:153, right:39, top:8, height:287},
  {left:153, right:39, top:354, height:286},
  {left:153, right:39, top:699, height:287}
].map(g => Object.assign({show:true, borderColor:'#000', borderWidth:1, backgroundColor:'#fff'}, g));

const dotted = {show:true, lineStyle:{color:'#333', width:1, type:[2,4]}};
function xAxisFor(i, showLabels){
  return {type:'value', gridIndex:i, min:xTicks[0], max:xTicks[1], interval:xTicks[2], position:'bottom',
    axisLine:{show:false}, axisTick:{show:true, inside:true, length:10, lineStyle:{color:'#000'}},
    axisLabel:{show:showLabels, color:'#000', fontSize:30, fontFamily:FONT, margin:12, formatter:v => String(v)},
    splitLine:dotted};
}
function xTopFor(i){
  return {type:'value', gridIndex:i, min:xTicks[0], max:xTicks[1], interval:xTicks[2], position:'top',
    axisLine:{show:false}, axisTick:{show:true, inside:true, length:10, lineStyle:{color:'#000'}},
    axisLabel:{show:false}, splitLine:{show:false}};
}
const yRanges = [
  {min:200, max:309.5, interval:50},
  {min:-4.47, max:4.47, splitNumber:5},
  {min:-1.7, max:1.89, splitNumber:4}
];
function yAxisFor(i, pos){
  const r = yRanges[i];
  const a = {type:'value', gridIndex:i, min:r.min, max:r.max, position:pos,
    axisLine:{show:false}, axisTick:{show:true, inside:true, length:10, lineStyle:{color:'#000'}},
    axisLabel:{show:pos==='left', color:'#000', fontSize:30, fontFamily:FONT, margin:8, showMinLabel:i===0, showMaxLabel:false},
    splitLine: pos==='left' ? dotted : {show:false}};
  if (r.interval) a.interval = r.interval; else a.splitNumber = r.splitNumber;
  return a;
}

function lineSeries(data, color, xi, yi, w){
  return {type:'line', data:withGaps(data), xAxisIndex:xi, yAxisIndex:yi, showSymbol:false, symbol:'none',
    connectNulls:false, animation:false, silent:true, clip:true,
    lineStyle:{color:color, width:w||1.7}, itemStyle:{color:color}};
}
const zeroLine = {silent:true, symbol:'none', label:{show:false}, animation:false,
  lineStyle:{color:'#333', width:1.6, type:'solid'}, data:[{yAxis:0}]};

const series = [
  lineSeries(tbBlack, C.black, 0, 0),
  lineSeries(tbRed, C.red, 0, 0),
  lineSeries(tbBlue, C.blue, 0, 0),
  lineSeries(ocRed, C.red, 1, 1),
  Object.assign(lineSeries(ocBlue, C.blue, 1, 1), {markLine: zeroLine})
];
const bottomSegs = [[m11,'M-11'],[m10,'M-10'],[m09,'M-09'],[m08,'M-08'],[m07,'M-07'],[m06,'M-06'],[m05,'M-05'],
  [m04d,'M-04d'],[m04c,'M-04c'],[m03,'M-03'],[m04b,'M-04b'],[m04a,'M-04a']];
bottomSegs.forEach(([d,n], k) => {
  const s = lineSeries(d, modColor[n], 2, 2, 1.5);
  if (k === 0) s.markLine = zeroLine;
  series.push(s);
});

const tok = (size, va) => ({fontSize:size, fontFamily:FONT, fill:'#000', verticalAlign:va, lineHeight:36});
const graphic = [
  {type:'text', x:50, y:152, rotation:Math.PI/2, silent:true,
    style:{text:'{m|T}{s|b}{m| (K)}', align:'center', verticalAlign:'middle', fill:'#000',
      rich:{m:tok(30,'top'), s:tok(21,'bottom')}}},
  {type:'text', x:89, y:491, rotation:Math.PI/2, silent:true,
    style:{text:'obs-calc (K)', align:'center', verticalAlign:'middle', fill:'#000', fontSize:30, fontFamily:FONT}},
  {type:'text', x:58, y:848, rotation:Math.PI/2, silent:true,
    style:{text:'{m|(Obs-Calc)}{s|AIRS}{p|-}\n{m|(Obs-Calc)}{s|SHIS}{m| (K)}', align:'center', verticalAlign:'middle', fill:'#000',
      rich:{m:Object.assign(tok(30,'top'),{lineHeight:33}), s:Object.assign(tok(21,'bottom'),{lineHeight:33}), p:Object.assign(tok(21,'top'),{lineHeight:33})}}},
  {type:'text', x:806, y:1058, silent:true,
    style:{text:'{m|wavenumber (cm}{p|-1}{m|)}', align:'center', verticalAlign:'middle', fill:'#000',
      rich:{m:Object.assign(tok(30,'bottom'),{lineHeight:38}), p:Object.assign(tok(21,'top'),{lineHeight:38})}}}
];

const chart = echarts.init(document.getElementById('c'), null, {renderer:'canvas', width:1498, height:1078});
chart.setOption({
  backgroundColor:'#fff',
  animation:false,
  grid: grids,
  xAxis: [xAxisFor(0,false), xAxisFor(1,false), xAxisFor(2,true), xTopFor(0), xTopFor(1), xTopFor(2)],
  yAxis: [yAxisFor(0,'left'), yAxisFor(1,'left'), yAxisFor(2,'left'), yAxisFor(0,'right'), yAxisFor(1,'right'), yAxisFor(2,'right')],
  series: series,
  graphic: graphic
});
// Module labels placed through the bottom grid's coordinate system
const labelGraphics = modNames.map((n, i) => {
  const p = chart.convertToPixel({gridIndex:2}, [modLabelX[i], modLabelY[i]]);
  return {type:'text', x:p[0], y:p[1], silent:true, z:100,
    style:{text:n, fill:modColor[n], fontSize:30, fontFamily:FONT, align:'center', verticalAlign:'middle'}};
});
chart.setOption({graphic: graphic.concat(labelGraphics)});
</script>
</body>
</html>
